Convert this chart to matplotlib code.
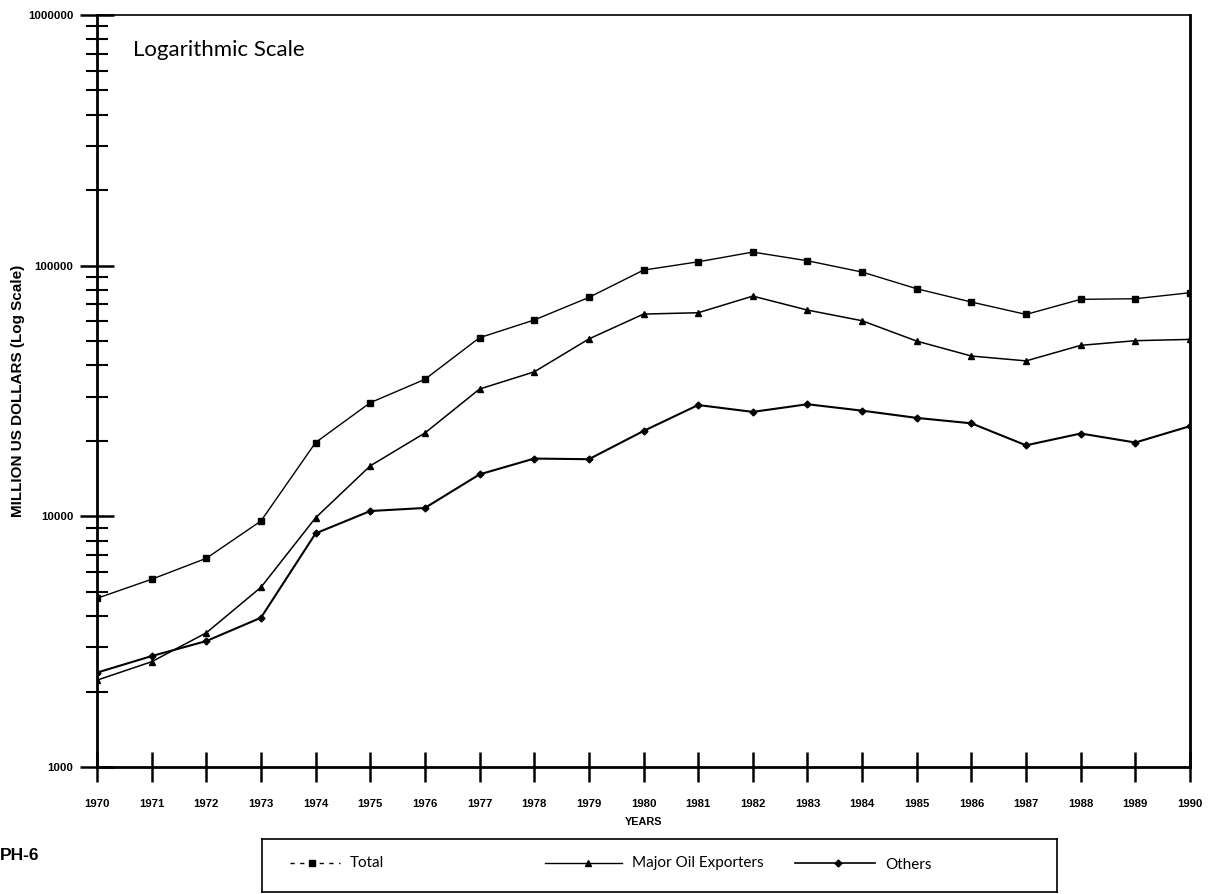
import matplotlib
matplotlib.use("Agg")
import matplotlib.pyplot as plt
from matplotlib.lines import Line2D
from matplotlib.font_manager import FontProperties
from matplotlib.ticker import LogLocator, FixedLocator, NullFormatter, FixedFormatter

years = list(range(1970, 1991))
total = [4710, 5610, 6800, 9580, 19700, 28400, 35200, 51600, 60700, 74700, 96000,
         103600, 113300, 104600, 94300, 80900, 71600, 63900, 73400, 73800, 78000]
major = [2220, 2630, 3430, 5210, 9870, 15900, 21500, 32200, 37700, 51000, 64100,
         64900, 75600, 66500, 60300, 50000, 43600, 41700, 48100, 50200, 50800]
others = [2380, 2770, 3180, 3940, 8550, 10500, 10800, 14700, 17000, 16900, 21900,
          27800, 26100, 28000, 26400, 24700, 23500, 19200, 21400, 19700, 22900]
year_labels = [str(y) for y in years]
ytick_vals = [1000, 10000, 100000, 1000000]
ytick_labels = ["1000", "10000", "100000", "1000000"]

W, H = 1210, 894
fig = plt.figure(figsize=(W / 100, H / 100), dpi=100)
ax = fig.add_axes([97 / W, (H - 767) / H, (1190 - 97) / W, (767 - 15) / H])

ax.plot(years, total, color="black", lw=1.0, marker="s", ms=4.5)
ax.plot(years, major, color="black", lw=1.1, marker="^", ms=4.5)
ax.plot(years, others, color="black", lw=1.5, marker="D", ms=3.5)

ax.set_yscale("log")
ax.set_ylim(1000, 1000000)
ax.set_xlim(1970, 1990)

ax.yaxis.set_major_locator(FixedLocator(ytick_vals))
ax.yaxis.set_major_formatter(FixedFormatter(ytick_labels))
ax.yaxis.set_minor_locator(LogLocator(base=10, subs=range(2, 10)))
ax.yaxis.set_minor_formatter(NullFormatter())
ax.set_xticks(years)
ax.set_xticklabels(year_labels)

fp = FontProperties(family="Liberation Sans", weight="bold", size=8.2)
for lab in ax.get_xticklabels() + ax.get_yticklabels():
    lab.set_fontproperties(fp)

ax.tick_params(axis="y", which="major", direction="inout", length=24, width=1.8, pad=5)
ax.tick_params(axis="y", which="minor", direction="inout", length=16, width=1.5)
ax.tick_params(axis="x", which="major", direction="inout", length=22, width=1.8, pad=12)

for s in ["left", "bottom", "right"]:
    ax.spines[s].set_linewidth(2.0)
ax.spines["top"].set_linewidth(1.2)

ax.set_ylabel("MILLION US DOLLARS (Log Scale)", family="Liberation Sans",
              weight="bold", fontsize=11)
ax.yaxis.set_label_coords(-0.066, 0.50)
ax.set_xlabel("YEARS", family="Liberation Sans", weight="bold", fontsize=7.8,
              labelpad=6)

fig.text(133 / W, 1 - 50 / H, "Logarithmic Scale", family="Lato", fontsize=16,
         va="center", ha="left")

fig.text(0, 1 - 856 / H, "PH-6", family="Liberation Sans", weight="bold",
         fontsize=12.5, va="center", ha="left")

# legend box
lx0, lx1 = 262, 1057
lax = fig.add_axes([lx0 / W, (H - 892) / H, (lx1 - lx0) / W, (892 - 839) / H])
lax.set_xlim(lx0, lx1)
lax.set_ylim(0, 1)
lax.set_xticks([])
lax.set_yticks([])
for s in lax.spines.values():
    s.set_linewidth(1.2)
ly = 0.55
lax.add_line(Line2D([290, 340], [ly, ly], color="black", lw=1.0, ls=(0, (3, 4))))
lax.add_line(Line2D([312], [ly], color="black", marker="s", ms=4.5))
lax.text(350, ly, "Total", family="Lato", fontsize=11, va="center")
lax.add_line(Line2D([545, 622], [ly, ly], color="black", lw=1.0))
lax.add_line(Line2D([588], [ly], color="black", marker="^", ms=4.5))
lax.text(632, ly, "Major Oil Exporters", family="Lato", fontsize=11, va="center")
lax.add_line(Line2D([795, 875], [ly, ly], color="black", lw=1.2))
lax.add_line(Line2D([838], [ly], color="black", marker="D", ms=3.5))
lax.text(885, ly - 0.04, "Others", family="Lato", fontsize=11, va="center")

fig.savefig("out.png", dpi=100)
